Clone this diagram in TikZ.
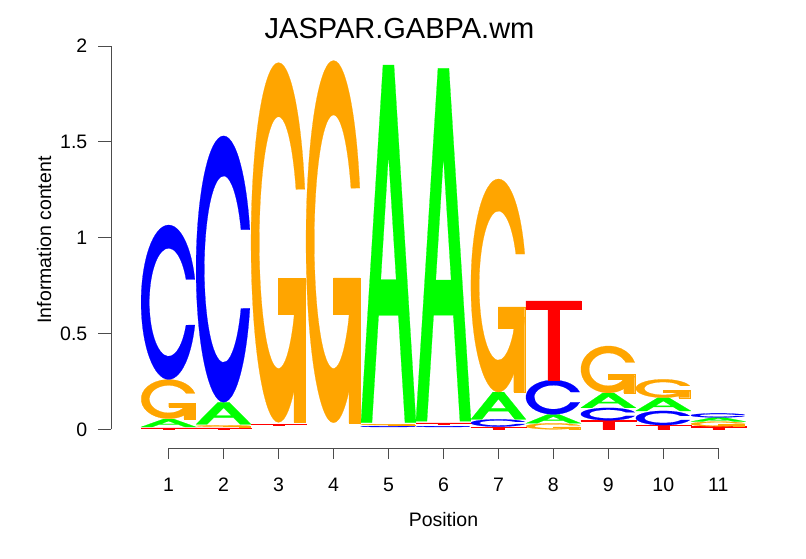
\documentclass[tikz,border=0pt]{standalone}
\usepackage{fontspec}
\setmainfont{Liberation Sans}
\usepackage{tikz}
\definecolor{logoA}{RGB}{0,255,0}
\definecolor{logoC}{RGB}{0,0,255}
\definecolor{logoG}{RGB}{255,165,0}
\definecolor{logoT}{RGB}{255,0,0}
\tikzset{
	letterfill/.style={fill=#1, draw=#1, line width=0.2pt},
	axisline/.style={line width=0.9pt, color=black!70},
	ticklabel/.style={inner sep=0pt, font=\fontsize{19.5}{20}\selectfont},
	axislabel/.style={inner sep=0pt, font=\fontsize{19.5}{20}\selectfont},
	titlelabel/.style={inner sep=0pt, font=\fontsize{29}{30}\selectfont}
}
% letters in a unit box: (position:bottom:top)
\def\letterA(#1:#2:#3){\pgfmathsetmacro\lh{#3-#2}\begin{scope}[shift={({#1-0.5},#2)},yscale=\lh]
	\path[letterfill=logoA, even odd rule] (0,0) -- (0.4,1) -- (0.6,1) -- (1,0) -- (0.8,0) -- (0.68,0.3) -- (0.32,0.3) -- (0.2,0) -- cycle (0.36,0.4) -- (0.5,0.75) -- (0.64,0.4) -- cycle;
	\end{scope}}
\def\letterC(#1:#2:#3){\pgfmathsetmacro\lh{#3-#2}\begin{scope}[shift={({#1-0.5},#2)},yscale=\lh]
	\path[letterfill=logoC] (0.978,0.648) arc[start angle=17.19, end angle=342.81, radius=0.5] -- (0.817,0.352) arc[start angle=335, end angle=25, radius=0.35] -- cycle;
	\end{scope}}
\def\letterG(#1:#2:#3){\pgfmathsetmacro\lh{#3-#2}\begin{scope}[shift={({#1-0.5},#2)},yscale=\lh]
	\path[letterfill=logoG] (0.978,0.648) arc[start angle=17.19, end angle=342.81, radius=0.5] -- (0.817,0.352) arc[start angle=335, end angle=25, radius=0.35] -- cycle;
	\path[letterfill=logoG] (0.978,0.4) -- (0.5,0.4) -- (0.5,0.3) -- (0.778,0.3) -- (0.778,0) -- (0.978,0) -- cycle;
	\end{scope}}
\def\letterT(#1:#2:#3){\pgfmathsetmacro\lh{#3-#2}\begin{scope}[shift={({#1-0.5},#2)},yscale=\lh]
	\path[letterfill=logoT] (0,1) -- (1,1) -- (1,0.9) -- (0.6,0.9) -- (0.6,0) -- (0.4,0) -- (0.4,0.9) -- (0,0.9) -- cycle;
	\end{scope}}

\begin{document}
\begin{tikzpicture}[x=1pt, y=1pt]
	%%%%% START %%%%%
	
	\fill[white] (0,0) rectangle (806,559);
	\useasboundingbox (0,0) rectangle (806,559);
	
	\node[titlelabel, anchor=base] (title) at (399.5, 520.7) {JASPAR.GABPA.wm};
	
	% y axis
	\draw[axisline] (111, 129.7) -- (111, 512.9);
	\draw[axisline] (98, 129.7) -- (111, 129.7);
	\draw[axisline] (98, 225.5) -- (111, 225.5);
	\draw[axisline] (98, 321.3) -- (111, 321.3);
	\draw[axisline] (98, 417.1) -- (111, 417.1);
	\draw[axisline] (98, 512.9) -- (111, 512.9);
	\node[ticklabel, anchor=east] (y0) at (87.5, 129.7) {0};
	\node[ticklabel, anchor=east] (y05) at (87.5, 225.5) {0.5};
	\node[ticklabel, anchor=east] (y1) at (87.5, 321.3) {1};
	\node[ticklabel, anchor=east] (y15) at (87.5, 417.1) {1.5};
	\node[ticklabel, anchor=east] (y2) at (87.5, 512.9) {2};
	\node[axislabel, rotate=90, anchor=base] (ylab) at (51, 319) {Information content};
	
	% x axis
	\draw[axisline] (168.6, 110.7) -- (718.3, 110.7);
	\draw[axisline] (168.6, 110.7) -- (168.6, 99.7);
	\draw[axisline] (223.57, 110.7) -- (223.57, 99.7);
	\draw[axisline] (278.54, 110.7) -- (278.54, 99.7);
	\draw[axisline] (333.51, 110.7) -- (333.51, 99.7);
	\draw[axisline] (388.48, 110.7) -- (388.48, 99.7);
	\draw[axisline] (443.45, 110.7) -- (443.45, 99.7);
	\draw[axisline] (498.42, 110.7) -- (498.42, 99.7);
	\draw[axisline] (553.39, 110.7) -- (553.39, 99.7);
	\draw[axisline] (608.36, 110.7) -- (608.36, 99.7);
	\draw[axisline] (663.33, 110.7) -- (663.33, 99.7);
	\draw[axisline] (718.3, 110.7) -- (718.3, 99.7);
	\node[ticklabel, anchor=base] (x1) at (168.6, 67.3) {1};
	\node[ticklabel, anchor=base] (x2) at (223.57, 67.3) {2};
	\node[ticklabel, anchor=base] (x3) at (278.54, 67.3) {3};
	\node[ticklabel, anchor=base] (x4) at (333.51, 67.3) {4};
	\node[ticklabel, anchor=base] (x5) at (388.48, 67.3) {5};
	\node[ticklabel, anchor=base] (x6) at (443.45, 67.3) {6};
	\node[ticklabel, anchor=base] (x7) at (498.42, 67.3) {7};
	\node[ticklabel, anchor=base] (x8) at (553.39, 67.3) {8};
	\node[ticklabel, anchor=base] (x9) at (608.36, 67.3) {9};
	\node[ticklabel, anchor=base] (x10) at (663.33, 67.3) {10};
	\node[ticklabel, anchor=base] (x11) at (718.3, 67.3) {11};
	\node[axislabel, anchor=base] (xlab) at (443.45, 32.3) {Position};
	
	% letter stacks
	\begin{scope}[shift={(113.63pt,129.7pt)}, x=54.97pt, y=191.6pt]
		\letterT(1:0.002:0.008) \letterA(1:0.012:0.053) \letterG(1:0.055:0.260) \letterC(1:0.260:1.066)
		\letterT(2:0.002:0.008) \letterG(2:0.014:0.020) \letterA(2:0.026:0.141) \letterC(2:0.141:1.531)
		\letterT(3:0.023:0.027) \letterG(3:0.036:1.913)
		\letterG(4:0.034:1.924)
		\letterC(5:0.012:0.016) \letterG(5:0.022:0.027) \letterA(5:0.035:1.901)
		\letterC(6:0.012:0.016) \letterT(6:0.026:0.033) \letterA(6:0.042:1.884)
		\letterT(7:0.002:0.010) \letterC(7:0.014:0.052) \letterA(7:0.052:0.194) \letterG(7:0.194:1.306)
		\letterG(8:0:0.031) \letterA(8:0.031:0.078) \letterC(8:0.078:0.257) \letterT(8:0.257:0.670)
		\letterT(9:0:0.047) \letterC(9:0.047:0.112) \letterA(9:0.112:0.190) \letterG(9:0.190:0.435)
		\letterT(10:0:0.022) \letterC(10:0.022:0.096) \letterA(10:0.096:0.165) \letterG(10:0.165:0.261)
		\letterT(11:0:0.015) \letterG(11:0.015:0.040) \letterA(11:0.040:0.062) \letterC(11:0.062:0.083)
	\end{scope}
	
	%%%%% END %%%%%
\end{tikzpicture}
\end{document}
